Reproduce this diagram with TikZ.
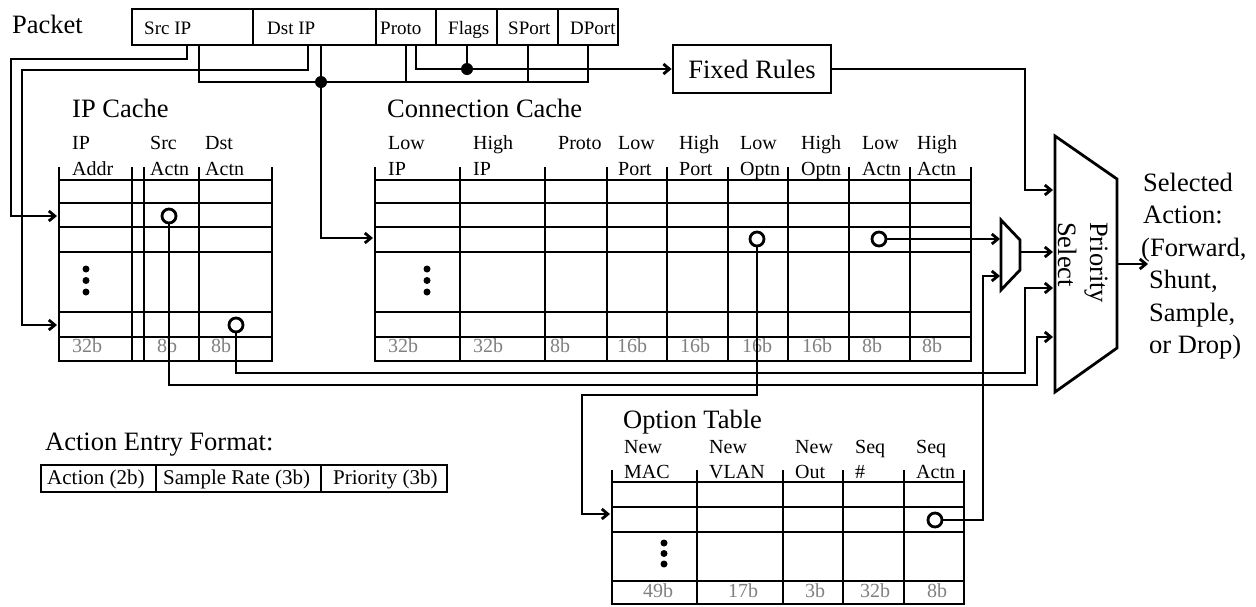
\documentclass[tikz,border=0pt]{standalone}
\usepackage{fontspec}
\setmainfont{Liberation Serif}
\usetikzlibrary{arrows.meta}
\begin{document}
\begin{tikzpicture}[x=1pt,y=-1pt,
  wire/.style={line width=2.8pt},
  grid/.style={line width=2.8pt,line cap=rect},
  thinl/.style={line width=1.5pt},
  arr/.style={-{Straight Barb[length=6pt,width=10pt]}},
  big/.style={font=\fontsize{26.5}{32}\selectfont, inner sep=0pt, anchor=base west},
  hdr/.style={font=\fontsize{20}{24}\selectfont, inner sep=0pt, anchor=base west},
  gry/.style={font=\fontsize{20}{24}\selectfont, text=black!50, inner sep=0pt, anchor=base west},
  fld/.style={font=\fontsize{19}{23}\selectfont, inner sep=0pt, anchor=base west},
  act/.style={font=\fontsize{21}{25}\selectfont, inner sep=0pt, anchor=base west},
  ring/.style={circle, draw, fill=white, line width=2.8pt, minimum size=14pt, inner sep=0pt},
  jdot/.style={circle, fill=black, minimum size=12pt, inner sep=0pt},
  edot/.style={circle, fill=black, minimum size=7pt, inner sep=0pt},
]
\useasboundingbox (0,0) rectangle (1256,606);

% ---------------- Packet ----------------
\node[big] (lblPacket) at (12,33) {Packet};
\draw[grid] (132,9) rectangle (618,45);
\foreach \x in {253,376,436,497,558} \draw[grid] (\x,9) -- (\x,45);
\node[fld] (fSrc) at (144,34) {Src IP};
\node[fld] (fDst) at (267,34) {Dst IP};
\node[fld] (fProto) at (380,34) {Proto};
\node[fld] (fFlags) at (448,34) {Flags};
\node[fld] (fSPort) at (508,34) {SPort};
\node[fld] (fDPort) at (570,34) {DPort};

\coordinate (pSrcA) at (187,45);
\coordinate (pSrcB) at (199,45);
\coordinate (pDstA) at (308,45);
\coordinate (pDstB) at (321,45);
\coordinate (pProA) at (406,45);
\coordinate (pProB) at (416,45);
\coordinate (pFlg) at (467,45);
\coordinate (pSP) at (528,45);
\coordinate (pDP) at (588,45);

% ---------------- Fixed Rules ----------------
\node[draw, line width=2.8pt, minimum width=158pt, minimum height=48pt, inner sep=0pt,
      font=\fontsize{26.5}{32}\selectfont] (FR) at (752,69) {Fixed Rules};

% ---------------- IP Cache ----------------
\node[big] (tIP) at (72,117) {IP Cache};
\foreach \x in {59,132,144,199,272} \draw[grid] (\x,168) -- (\x,361);
\foreach \y in {180,203,227,252,312,361} \draw[grid] (59,\y) -- (272,\y);
\draw[thinl] (59,337) -- (272,337);
\node[hdr] (h1a) at (72,149) {IP};   \node[hdr] (h1b) at (72,175) {Addr};
\node[hdr] (h2a) at (150,149) {Src}; \node[hdr] (h2b) at (150,175) {Actn};
\node[hdr] (h3a) at (205,149) {Dst}; \node[hdr] (h3b) at (205,175) {Actn};
\node[gry] (g1) at (72,352) {32b};
\node[gry] (g2) at (157,352) {8b};
\node[gry] (g3) at (211,352) {8b};
\node[edot] (e1a) at (86,269) {}; \node[edot] (e1b) at (86,280.5) {}; \node[edot] (e1c) at (86,292) {};
\coordinate (ipIn1) at (57,216);
\coordinate (ipIn2) at (57,325);

% ---------------- Connection Cache ----------------
\node[big] (tCC) at (387,117) {Connection Cache};
\foreach \x in {375,460,545,607,667,728,788,849,910,971} \draw[grid] (\x,168) -- (\x,361);
\foreach \y in {180,203,227,252,312,361} \draw[grid] (375,\y) -- (971,\y);
\draw[thinl] (375,337) -- (971,337);
\node[hdr] (c1a) at (388,149) {Low};  \node[hdr] (c1b) at (388,175) {IP};
\node[hdr] (c2a) at (473,149) {High}; \node[hdr] (c2b) at (473,175) {IP};
\node[hdr] (c3a) at (558,149) {Proto};
\node[hdr] (c4a) at (618,149) {Low};  \node[hdr] (c4b) at (618,175) {Port};
\node[hdr] (c5a) at (679,149) {High}; \node[hdr] (c5b) at (679,175) {Port};
\node[hdr] (c6a) at (740,149) {Low};  \node[hdr] (c6b) at (740,175) {Optn};
\node[hdr] (c7a) at (801,149) {High}; \node[hdr] (c7b) at (801,175) {Optn};
\node[hdr] (c8a) at (862,149) {Low};  \node[hdr] (c8b) at (862,175) {Actn};
\node[hdr] (c9a) at (917,149) {High}; \node[hdr] (c9b) at (917,175) {Actn};
\node[gry] (k1) at (388,352) {32b};
\node[gry] (k2) at (473,352) {32b};
\node[gry] (k3) at (550,352) {8b};
\node[gry] (k4) at (617,352) {16b};
\node[gry] (k5) at (680,352) {16b};
\node[gry] (k6) at (742,352) {16b};
\node[gry] (k7) at (802,352) {16b};
\node[gry] (k8) at (862,352) {8b};
\node[gry] (k9) at (922,352) {8b};
\node[edot] (e2a) at (427,269) {}; \node[edot] (e2b) at (427,280.5) {}; \node[edot] (e2c) at (427,292) {};
\coordinate (ccIn) at (373,238);

% ---------------- Option Table ----------------
\node[big] (tOT) at (623,428) {Option Table};
\foreach \x in {612,697,783,843,904,964} \draw[grid] (\x,471) -- (\x,604);
\foreach \y in {482,507,532,604} \draw[grid] (612,\y) -- (964,\y);
\draw[thinl] (612,581) -- (964,581);
\node[hdr] (o1a) at (624,453) {New}; \node[hdr] (o1b) at (624,478) {MAC};
\node[hdr] (o2a) at (709,453) {New}; \node[hdr] (o2b) at (709,478) {VLAN};
\node[hdr] (o3a) at (795,453) {New}; \node[hdr] (o3b) at (795,478) {Out};
\node[hdr] (o4a) at (855,453) {Seq}; \node[hdr] (o4b) at (855,478) {\#};
\node[hdr] (o5a) at (916,453) {Seq}; \node[hdr] (o5b) at (916,478) {Actn};
\node[gry] (q1) at (643,597) {49b};
\node[gry] (q2) at (728,597) {17b};
\node[gry] (q3) at (805,597) {3b};
\node[gry] (q4) at (860,597) {32b};
\node[gry] (q5) at (927,597) {8b};
\node[edot] (e3a) at (664,543) {}; \node[edot] (e3b) at (664,553.5) {}; \node[edot] (e3c) at (664,564) {};
\coordinate (otIn) at (610,514);

% ---------------- Action Entry Format ----------------
\node[big] (tAE) at (45,450) {Action Entry Format:};
\draw[grid] (41,465) rectangle (447,492);
\draw[grid] (156,465) -- (156,492);
\draw[grid] (321,465) -- (321,492);
\node[act] (a1) at (47,484) {Action (2b)};
\node[act] (a2) at (163,484) {Sample Rate (3b)};
\node[act] (a3) at (333,484) {Priority (3b)};

% ---------------- Mux and Priority Select ----------------
\draw[wire, line join=miter] (1001,220) -- (1020,240) -- (1020,270) -- (1001,290) -- cycle;
\coordinate (muxIn1) at (1000,239);
\coordinate (muxIn2) at (1000,276);
\coordinate (muxOut) at (1020,252);
\draw[wire, line join=miter] (1055,136) -- (1117,179) -- (1117,348) -- (1055,392) -- cycle;
\coordinate (ps1) at (1053,190);
\coordinate (ps2) at (1053,252);
\coordinate (ps3) at (1053,288);
\coordinate (ps4) at (1053,337);
\coordinate (psOut) at (1117,264);
\coordinate (selOut) at (1148,264);
\node[big, rotate=-90] (tPri) at (1090,222) {Priority};
\node[big, rotate=-90] (tSel) at (1058,222) {Select};

\node[big] (s1) at (1143,191) {Selected};
\node[big] (s2) at (1143,223.5) {Action:};
\node[big] (s3) at (1141,256) {(Forward,};
\node[big] (s4) at (1149,288.5) {Shunt,};
\node[big] (s5) at (1149,321) {Sample,};
\node[big] (s6) at (1149,353.5) {or Drop)};

% ---------------- Wires ----------------
\draw[wire, arr] (pSrcA) |- (11,59) |- (ipIn1);
\draw[wire, arr] (pDstA) |- (22,70) |- (ipIn2);
\draw[wire] (pSrcB) |- (588,82) -- (pDP);
\draw[wire] (pProA) -- (406,82);
\draw[wire] (pSP) -- (528,82);
\draw[wire, arr] (pDstB) |- (ccIn);
\node[jdot] (j1) at (321,82) {};
\draw[wire, arr] (pProB) |- (FR.west);
\draw[wire] (pFlg) -- (467,69);
\node[jdot] (j2) at (467,69) {};
\draw[wire, arr] (FR.east) -| (1025,150) |- (ps1);

% circles and their wires
\draw[wire, arr] (169,216) -- (169,385) -| (1037,360) |- (ps4);
\draw[wire, arr] (236,325) -- (236,373) -| (1025,330) |- (ps3);
\draw[wire, arr] (757,239) -- (757,395) -| (582,450) |- (otIn);
\draw[wire, arr] (879,239) -- (muxIn1);
\draw[wire, arr] (935,520) -| (983,400) |- (muxIn2);
\draw[wire, arr] (muxOut) -- (ps2);
\draw[wire, arr] (psOut) -- (selOut);
\node[ring] (rSrc) at (169,216) {};
\node[ring] (rDst) at (236,325) {};
\node[ring] (rOpt) at (757,239) {};
\node[ring] (rAct) at (879,239) {};
\node[ring] (rSeq) at (935,520) {};
\end{tikzpicture}
\end{document}
